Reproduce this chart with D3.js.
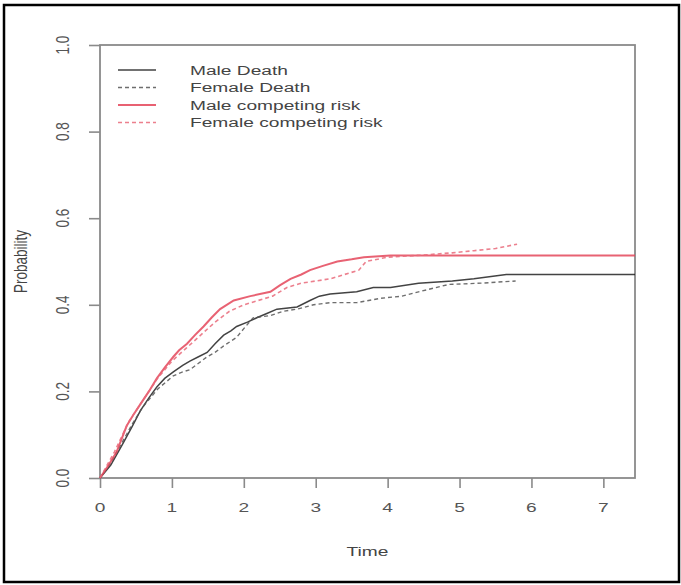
<!DOCTYPE html>
<html>
<head>
<meta charset="utf-8">
<script src="https://cdn.jsdelivr.net/npm/d3@7"></script>
<style>
  body { margin: 0; background: #fff; }
  svg { display: block; font-family: "Liberation Sans", Arial, sans-serif; }
  .axis line { stroke: #8a8a8a; stroke-width: 1.6; }
</style>
</head>
<body>
<script>
// cumulative incidence estimates
var maleDeath = [
  [0, 0], [0.15, 0.03], [0.32, 0.08], [0.45, 0.12], [0.56, 0.155], [0.68, 0.185],
  [0.79, 0.21], [0.9, 0.23], [1.02, 0.245], [1.15, 0.26], [1.25, 0.27], [1.37, 0.28],
  [1.49, 0.29], [1.6, 0.31], [1.72, 0.33], [1.82, 0.34], [1.9, 0.35], [2.05, 0.36],
  [2.18, 0.37], [2.32, 0.38], [2.46, 0.39], [2.74, 0.395], [2.92, 0.41], [3.05, 0.42],
  [3.2, 0.425], [3.57, 0.43], [3.8, 0.44], [4.04, 0.44], [4.43, 0.45], [4.9, 0.455],
  [5.2, 0.46], [5.65, 0.47], [7.44, 0.47]
]
var femaleDeath = [
  [0, 0], [0.15, 0.035], [0.3, 0.08], [0.45, 0.125], [0.6, 0.165], [0.8, 0.205],
  [1.02, 0.236], [1.15, 0.245], [1.25, 0.25], [1.37, 0.265], [1.49, 0.28], [1.6, 0.29],
  [1.72, 0.305], [1.9, 0.325], [2.0, 0.345], [2.13, 0.37], [2.37, 0.375], [2.55, 0.385],
  [2.74, 0.39], [2.97, 0.4], [3.2, 0.405], [3.57, 0.405], [3.9, 0.415], [4.2, 0.42],
  [4.43, 0.43], [4.85, 0.447], [5.3, 0.45], [5.78, 0.455]
]
var maleCompeting = [
  [0, 0], [0.12, 0.03], [0.23, 0.06], [0.37, 0.12], [0.46, 0.145], [0.56, 0.17],
  [0.68, 0.2], [0.79, 0.23], [0.9, 0.255], [1.02, 0.28], [1.1, 0.295], [1.21, 0.31],
  [1.32, 0.33], [1.44, 0.35], [1.55, 0.37], [1.67, 0.39], [1.86, 0.41], [2.09, 0.42],
  [2.37, 0.43], [2.5, 0.445], [2.65, 0.46], [2.8, 0.47], [2.92, 0.48], [3.1, 0.49],
  [3.3, 0.5], [3.5, 0.505], [3.67, 0.51], [4.04, 0.514], [7.44, 0.514]
]
var femaleCompeting = [
  [0, 0], [0.2, 0.06], [0.4, 0.13], [0.6, 0.18], [0.8, 0.23], [1.0, 0.27],
  [1.2, 0.3], [1.4, 0.33], [1.6, 0.36], [1.8, 0.385], [2.0, 0.4], [2.2, 0.41],
  [2.4, 0.42], [2.6, 0.44], [2.8, 0.45], [3.0, 0.455], [3.2, 0.46], [3.4, 0.47],
  [3.6, 0.48], [3.7, 0.5], [4.0, 0.51], [4.5, 0.515], [4.9, 0.52], [5.2, 0.525],
  [5.5, 0.53], [5.8, 0.54]
]

var seriesNames = ['Male Death', 'Female Death', 'Male competing risk', 'Female competing risk']
var xTicks = [0, 1, 2, 3, 4, 5, 6, 7]
var yTicks = [0, 0.2, 0.4, 0.6, 0.8, 1.0]

var series = [
  {name: seriesNames[0], values: maleDeath, color: '#222', dash: null, w: 1.5},
  {name: seriesNames[1], values: femaleDeath, color: '#555', dash: '4,3', w: 1.4},
  {name: seriesNames[2], values: maleCompeting, color: '#e4465a', dash: null, w: 2},
  {name: seriesNames[3], values: femaleCompeting, color: '#e96a7a', dash: '4,3', w: 1.6}
]

// the picture is stretched sideways, so text is widened to match
var sx = 1.42
var width = 681, height = 585
var svg = d3.select('body').append('svg')
  .attr('width', width).attr('height', height)

// outer frame
svg.append('rect')
  .attr('x', 4).attr('y', 5).attr('width', 675).attr('height', 577)
  .attr('fill', 'none').attr('stroke', '#000').attr('stroke-width', 2.5)

var x = d3.scaleLinear().domain([0, 7.44]).range([100, 635])
var y = d3.scaleLinear().domain([0, 1]).range([478, 45])

function label(px, py, str, rot){
  return svg.append('text')
    .attr('transform', 'translate(' + px + ',' + py + ') scale(' + sx + ',1)' + (rot ? ' rotate(-90)' : ''))
    .attr('text-anchor', 'middle').attr('dy', '0.35em')
    .attr('fill', '#555').attr('font-size', 13.5)
    .text(str)
}

// x axis ticks
svg.append('g').attr('class', 'axis')
  .attr('transform', 'translate(0,' + y(0) + ')')
  .call(d3.axisBottom(x).tickValues(xTicks).tickSize(10).tickFormat(''))
  .call(g => g.select('.domain').remove())
xTicks.forEach(d => label(x(d), 507, d3.format('d')(d)))

// y axis ticks
svg.append('g').attr('class', 'axis')
  .attr('transform', 'translate(' + x(0) + ',0)')
  .call(d3.axisLeft(y).tickValues(yTicks).tickSize(11).tickFormat(''))
  .call(g => g.select('.domain').remove())
yTicks.forEach(d => label(62, y(d), d3.format('.1f')(d), true))

// plot box
svg.append('rect')
  .attr('x', x(0)).attr('y', y(1))
  .attr('width', x(7.44) - x(0)).attr('height', y(0) - y(1))
  .attr('fill', 'none').attr('stroke', '#8a8a8a').attr('stroke-width', 1.8)

var line = d3.line()
  .x(d => x(d[0])).y(d => y(d[1]))

svg.append('g').selectAll('path')
  .data(series).join('path')
  .attr('d', d => line(d.values))
  .attr('fill', 'none')
  .attr('stroke', d => d.color)
  .attr('stroke-width', d => d.w)
  .attr('stroke-dasharray', d => d.dash)
  .attr('opacity', 0.85)

// legend
var leg = svg.append('g').selectAll('g')
  .data(series).join('g')
  .attr('transform', (d, i) => 'translate(118,' + (70 + i * 17.5) + ')')

leg.append('line')
  .attr('x1', 0).attr('x2', 38)
  .attr('stroke', d => d.color)
  .attr('stroke-width', d => d.w)
  .attr('stroke-dasharray', d => d.dash)
  .attr('opacity', 0.85)

leg.append('text')
  .attr('transform', 'translate(72,0) scale(' + sx + ',1)')
  .attr('dy', '0.35em')
  .attr('fill', '#444').attr('font-size', 13.5)
  .text(d => d.name)

// axis titles
label(20, y(0.5), 'Probability', true).attr('fill', '#444')
label((x(0) + x(7.44)) / 2, 551, 'Time').attr('fill', '#444')
</script>
</body>
</html>
